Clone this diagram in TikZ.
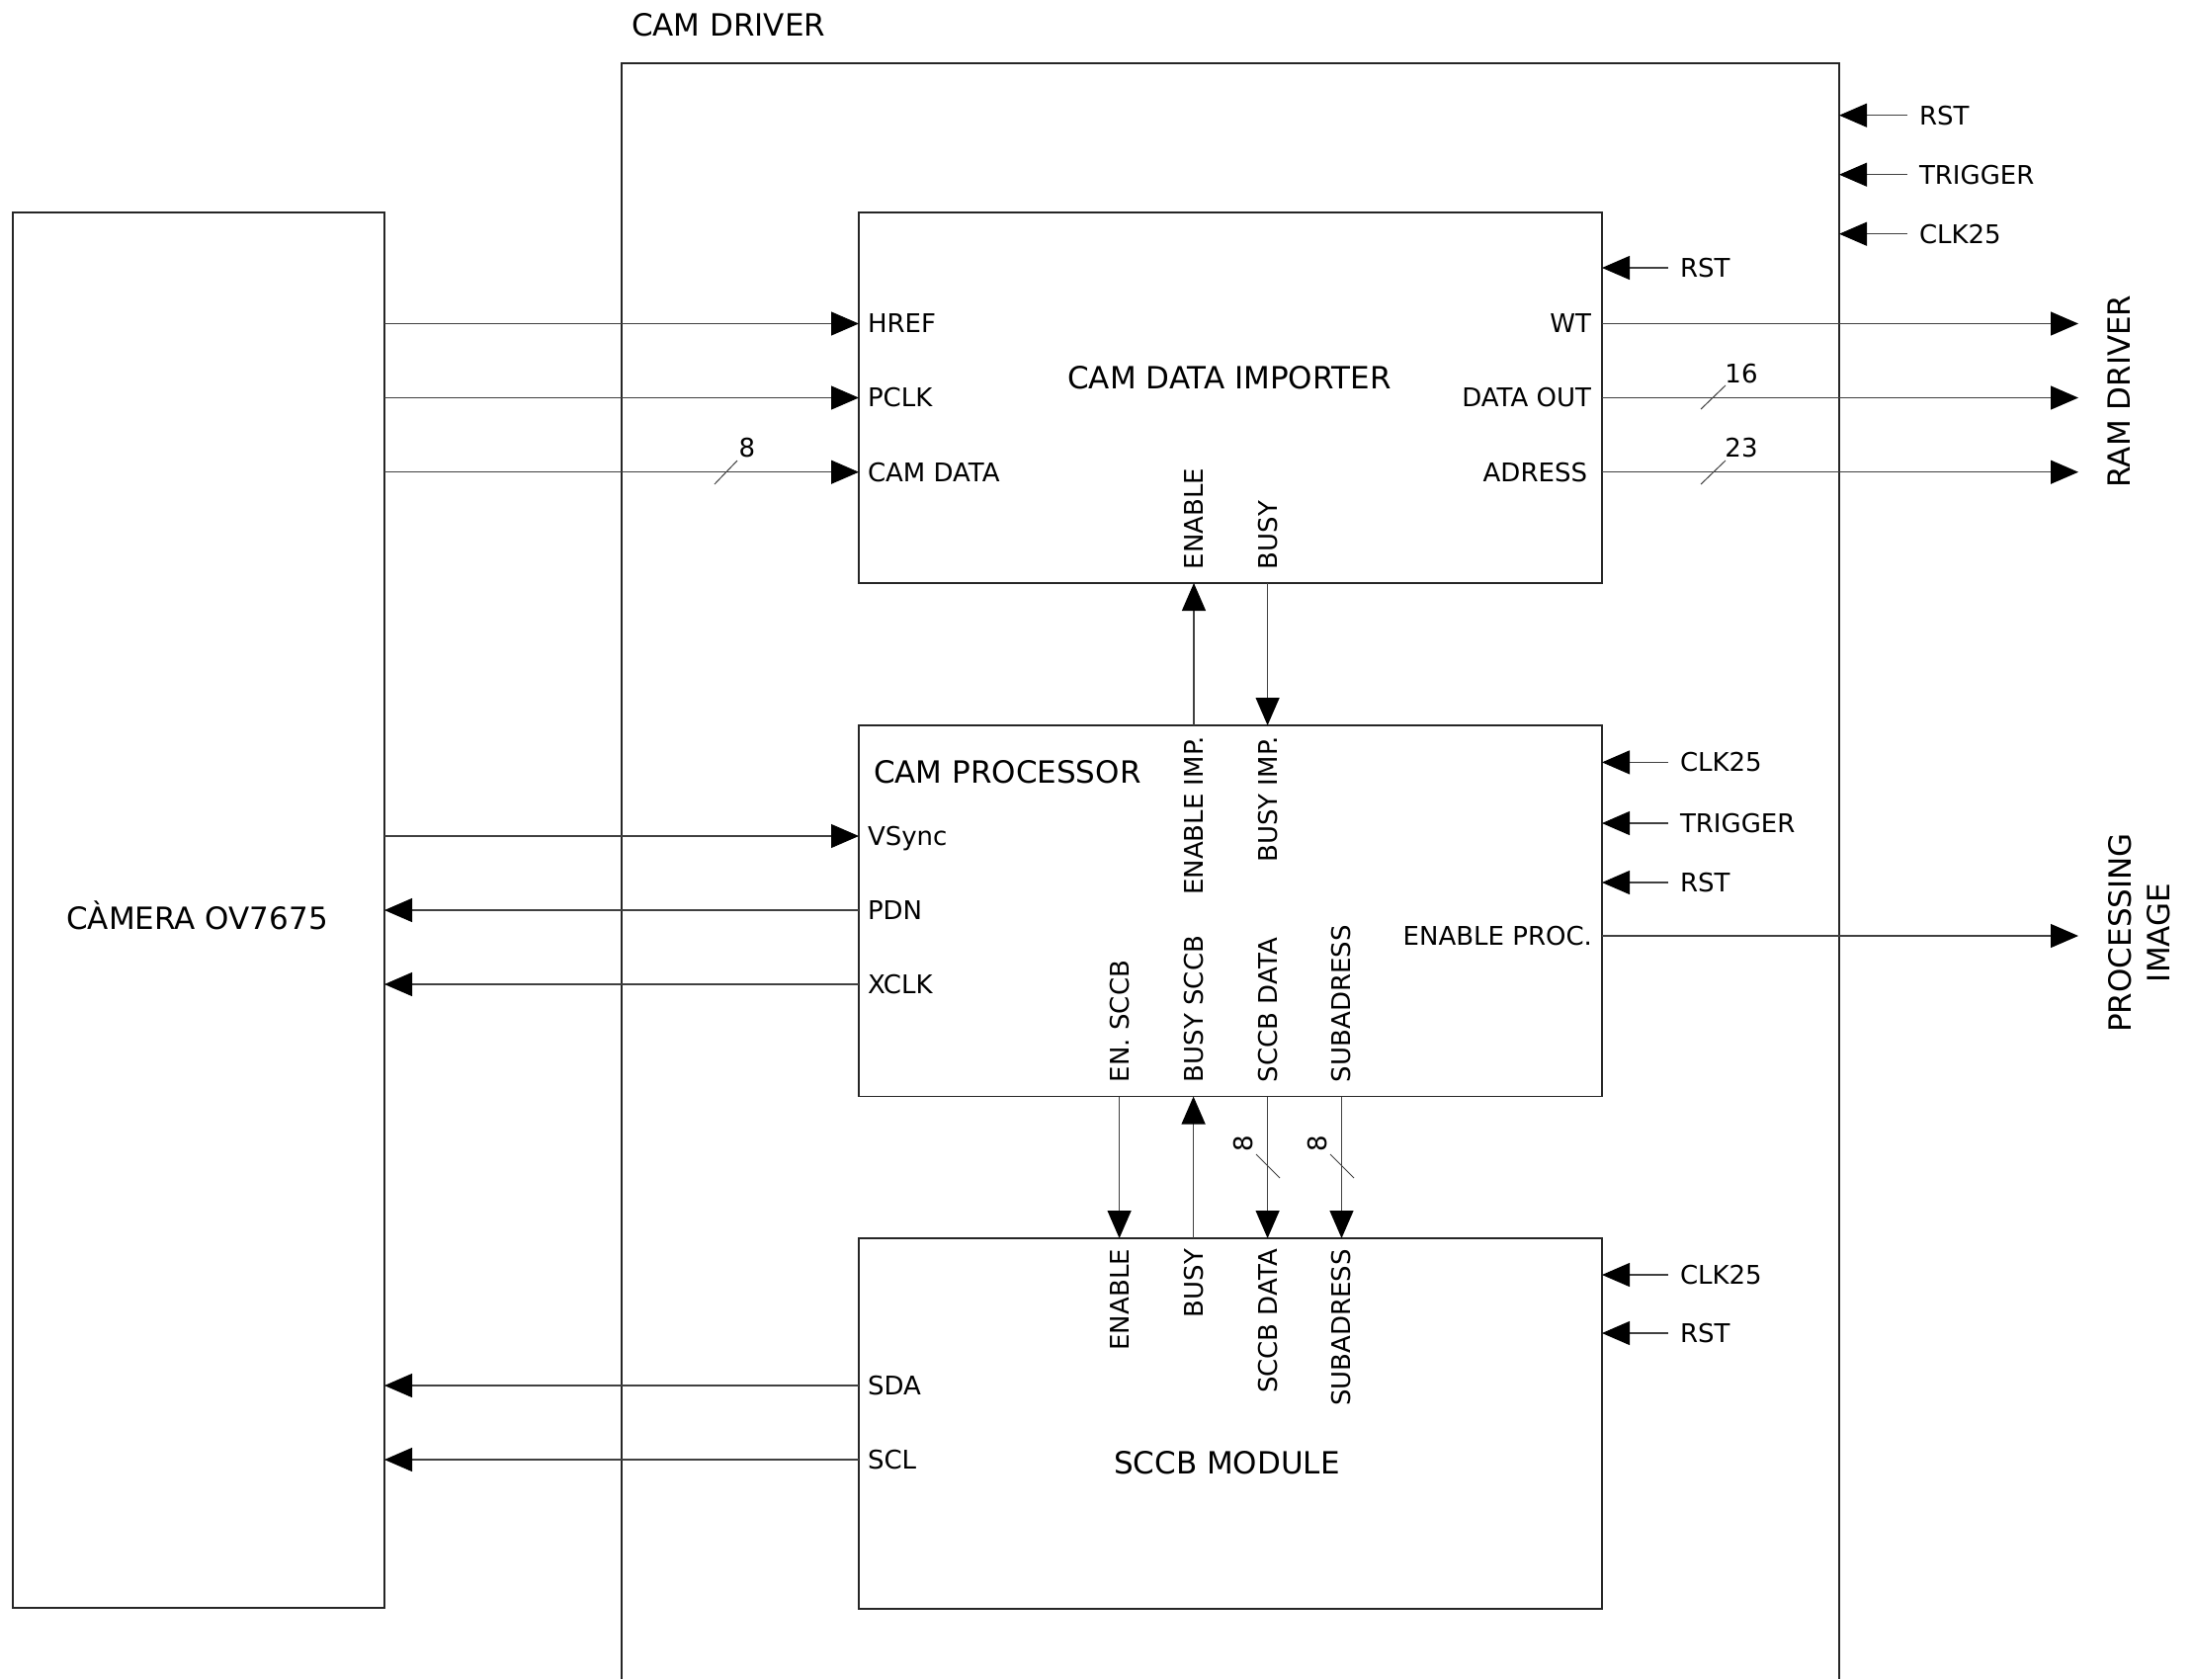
\documentclass[tikz,border=0pt]{standalone}
\usepackage{fontspec}
\setmainfont{DejaVu Sans}
\usetikzlibrary{arrows.meta}
\begin{document}
\begin{tikzpicture}[x=0.5pt,y=-0.5pt,
  box/.style={draw=black!85, line width=0.8pt, inner sep=0pt, outer sep=0pt},
  sig/.style={draw=black!75, line width=0.6pt},
  tip/.style={-{Triangle[length=14pt,width=12pt,color=black]}},
  lbl/.style={inner sep=0pt, outer sep=0pt, text height=9.48pt, text depth=0pt, font=\fontsize{13}{15.6}\selectfont},
  ttl/.style={inner sep=0pt, outer sep=0pt, text height=11.3pt, text depth=0pt, font=\fontsize{15.5}{19.5}\selectfont},
  tick/.style={draw=black!75, line width=0.5pt}]
\useasboundingbox (0,0) rectangle (2218,1699);

% boxes
\node[box, minimum width=188pt, minimum height=706pt] (camera) at (201,921) {};
\node[box, minimum width=376pt, minimum height=187.5pt] (importer) at (1245,402.5) {};
\node[box, minimum width=376pt, minimum height=187.75pt] (processor) at (1245,921.75) {};
\node[box, minimum width=376pt, minimum height=187.5pt] (sccb) at (1245,1440.5) {};
\node[inner sep=0pt, outer sep=0pt, minimum width=616pt, minimum height=817.5pt] (driver) at (1245,881.5) {};
\draw[box] (driver.south west) -- (driver.north west) -- (driver.north east) -- (driver.south east);

% titles
\node[ttl, anchor=west] (tDriver) at (639,25) {CAM DRIVER};
\node[ttl] (tCam) at (199.5,929) {CÀMERA OV7675};
\node[ttl] (tImp) at (1244,382) {CAM DATA IMPORTER};
\node[ttl, anchor=west] (tProc) at (884,781) {CAM PROCESSOR};
\node[ttl] (tSccb) at (1241.5,1480) {SCCB MODULE};
\node[ttl, rotate=90] (tRam) at (2144,396) {RAM DRIVER};
\node[inner sep=0pt, rotate=90, align=center, font=\fontsize{15.5}{19.5}\selectfont] (tPi) at (2165,944) {PROCESSING\\IMAGE};

% left port labels
\node[lbl, anchor=west] (pHREF) at (878,327.5) {HREF};
\node[lbl, anchor=west] (pPCLK) at (878,402.5) {PCLK};
\node[lbl, anchor=west] (pCAMD) at (878,477.7) {CAM DATA};
\node[lbl, anchor=west] (pVS) at (878,846) {VSync};
\node[lbl, anchor=west] (pPDN) at (878,921) {PDN};
\node[lbl, anchor=west] (pXCLK) at (878,996) {XCLK};
\node[lbl, anchor=west] (pSDA) at (878,1402) {SDA};
\node[lbl, anchor=west] (pSCL) at (878,1477) {SCL};

% right port labels (outputs)
\node[lbl, anchor=east] (pWT) at (1610,327.5) {WT};
\node[lbl, anchor=east] (pDO) at (1610,402.5) {DATA OUT};
\node[lbl, anchor=east] (pAD) at (1606,477.7) {ADRESS};
\node[lbl, anchor=east] (pEP) at (1611,947) {ENABLE PROC.};

% external inputs labels
\node[lbl, anchor=west] (oRST) at (1942,116.7) {RST};
\node[lbl, anchor=west] (oTRG) at (1942,176.7) {TRIGGER};
\node[lbl, anchor=west] (oCLK) at (1942,236.7) {CLK25};
\node[lbl, anchor=west] (iRST) at (1700,271) {RST};
\node[lbl, anchor=west] (cCLK) at (1700,771.4) {CLK25};
\node[lbl, anchor=west] (cTRG) at (1700,833) {TRIGGER};
\node[lbl, anchor=west] (cRST) at (1700,893) {RST};
\node[lbl, anchor=west] (sCLK) at (1700,1290) {CLK25};
\node[lbl, anchor=west] (sRST) at (1700,1349) {RST};

% vertical port labels
\node[lbl, rotate=90, anchor=west] (iEN) at (1208,576) {ENABLE};
\node[lbl, rotate=90, anchor=west] (iBUSY) at (1282.6,576) {BUSY};
\node[lbl, rotate=90, anchor=east] (cENI) at (1208,745) {ENABLE IMP.};
\node[lbl, rotate=90, anchor=east] (cBI) at (1282.6,745) {BUSY IMP.};
\node[lbl, rotate=90, anchor=west] (cENS) at (1132.6,1095) {EN. SCCB};
\node[lbl, rotate=90, anchor=west] (cBS) at (1207.6,1095) {BUSY SCCB};
\node[lbl, rotate=90, anchor=west] (cSD) at (1282.6,1095) {SCCB DATA};
\node[lbl, rotate=90, anchor=west] (cSA) at (1357.5,1095) {SUBADRESS};
\node[lbl, rotate=90, anchor=east] (sEN) at (1132.6,1264) {ENABLE};
\node[lbl, rotate=90, anchor=east] (sBUSY) at (1207.6,1264) {BUSY};
\node[lbl, rotate=90, anchor=east] (sSD) at (1282.6,1264) {SCCB DATA};
\node[lbl, rotate=90, anchor=east] (sSA) at (1357.5,1264) {SUBADRESS};

% output targets
\coordinate (ramIn) at (2103,402);
\coordinate (piIn) at (2103,947);

% camera -> importer
\draw[sig,tip] (camera.east |- pHREF.west) -- (importer.west |- pHREF.west);
\draw[sig,tip] (camera.east |- pPCLK.west) -- (importer.west |- pPCLK.west);
\draw[sig,tip] (camera.east |- pCAMD.west) -- (importer.west |- pCAMD.west);
% camera <-> processor
\draw[sig,tip] (camera.east |- pVS.west) -- (processor.west |- pVS.west);
\draw[sig,tip] (processor.west |- pPDN.west) -- (camera.east |- pPDN.west);
\draw[sig,tip] (processor.west |- pXCLK.west) -- (camera.east |- pXCLK.west);
% sccb -> camera
\draw[sig,tip] (sccb.west |- pSDA.west) -- (camera.east |- pSDA.west);
\draw[sig,tip] (sccb.west |- pSCL.west) -- (camera.east |- pSCL.west);

% outputs
\draw[sig,tip] (importer.east |- pWT.east) -- (ramIn |- pWT.east);
\draw[sig,tip] (importer.east |- pDO.east) -- (ramIn |- pDO.east);
\draw[sig,tip] (importer.east |- pAD.east) -- (ramIn |- pAD.east);
\draw[sig,tip] (processor.east |- pEP.east) -- (piIn |- pEP.east);

% external inputs
\draw[sig,tip] ([xshift=-6pt]oRST.west) -- (driver.east |- oRST.west);
\draw[sig,tip] ([xshift=-6pt]oTRG.west) -- (driver.east |- oTRG.west);
\draw[sig,tip] ([xshift=-6pt]oCLK.west) -- (driver.east |- oCLK.west);
\draw[sig,tip] ([xshift=-6pt]iRST.west) -- (importer.east |- iRST.west);
\draw[sig,tip] ([xshift=-6pt]cCLK.west) -- (processor.east |- cCLK.west);
\draw[sig,tip] ([xshift=-6pt]cTRG.west) -- (processor.east |- cTRG.west);
\draw[sig,tip] ([xshift=-6pt]cRST.west) -- (processor.east |- cRST.west);
\draw[sig,tip] ([xshift=-6pt]sCLK.west) -- (sccb.east |- sCLK.west);
\draw[sig,tip] ([xshift=-6pt]sRST.west) -- (sccb.east |- sRST.west);

% vertical connectors
\draw[sig,tip] (processor.north -| cENI.east) -- (importer.south -| cENI.east);
\draw[sig,tip] (importer.south -| cBI.east) -- (processor.north -| cBI.east);
\draw[sig,tip] (processor.south -| cENS.west) -- (sccb.north -| cENS.west);
\draw[sig,tip] (sccb.north -| cBS.west) -- (processor.south -| cBS.west);
\draw[sig,tip] (processor.south -| cSD.west) -- (sccb.north -| cSD.west);
\draw[sig,tip] (processor.south -| cSA.west) -- (sccb.north -| cSA.west);

% bus width marks
\draw[tick] (723,490) -- (746,466);
\node[lbl] (w8a) at (756,453) {8};
\draw[tick] (1721,414) -- (1746,390);
\node[lbl] (w16) at (1762,378) {16};
\draw[tick] (1721,490) -- (1746,466);
\node[lbl] (w23) at (1762,453) {23};
\draw[tick] (1271,1168) -- (1295,1192);
\node[lbl, rotate=90] (w8b) at (1258,1157) {8};
\draw[tick] (1346,1168) -- (1370,1192);
\node[lbl, rotate=90] (w8c) at (1333,1157) {8};
\end{tikzpicture}
\end{document}
